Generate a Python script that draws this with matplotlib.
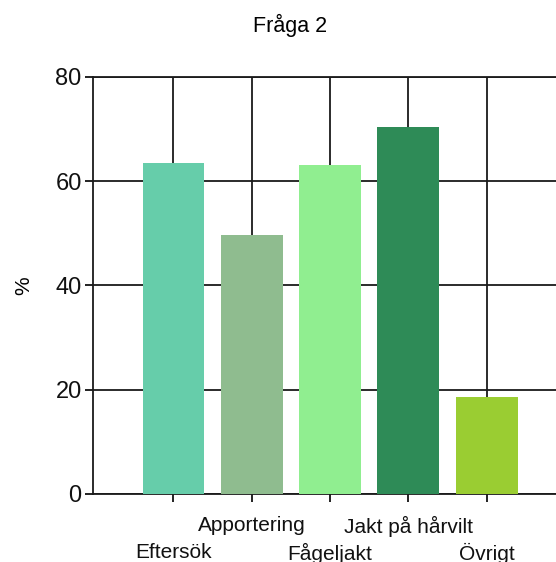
import matplotlib
matplotlib.use("Agg")
import matplotlib.pyplot as plt

categories = ["Eftersök", "Apportering", "Fågeljakt", "Jakt på hårvilt", "Övrigt"]
values = [63.5, 49.6, 63.1, 70.4, 18.6]
colors = ["#66CDAA", "#8FBC8F", "#90EE90", "#2E8B57", "#9ACD32"]
yticks = [0, 20, 40, 60, 80]

plt.rcParams['font.family'] = ['Liberation Sans', 'DejaVu Sans']

fig = plt.figure(figsize=(5.56, 5.62), dpi=100)
ax = fig.add_axes([0.167, 0.121, 0.849, 0.742])

x = list(range(len(categories)))
ax.bar(x, values, width=0.79, color=colors, zorder=3)

ax.set_xlim(-1.03, 5.0)
ax.set_ylim(0, 80)
ax.set_yticks(yticks)
ax.set_xticks(x)
ax.set_xticklabels(categories, fontsize=15)
ax.tick_params(axis='x', direction='out', length=6, width=1.3, colors='#111')
ax.tick_params(axis='y', direction='out', length=6, width=1.3, pad=2, labelsize=17, colors='#111')
# staggered labels: even ones on the lower row
for i, tick in enumerate(ax.xaxis.get_major_ticks()):
    tick.set_pad(29.3 if i % 2 == 0 else 10.0)

ax.grid(True, color='#1a1a1a', linewidth=1.3, zorder=0)
ax.set_axisbelow(True)
ax.spines['right'].set_visible(False)
for s in ['left', 'bottom', 'top']:
    ax.spines[s].set_color('#1a1a1a')
    ax.spines[s].set_linewidth(1.3)

ax.set_ylabel("%", fontsize=15, labelpad=16)
fig.text(290 / 556, 1 - 25 / 562, "Fråga 2", fontsize=15.5, ha='center', va='center')

fig.savefig("out.png", dpi=100)
